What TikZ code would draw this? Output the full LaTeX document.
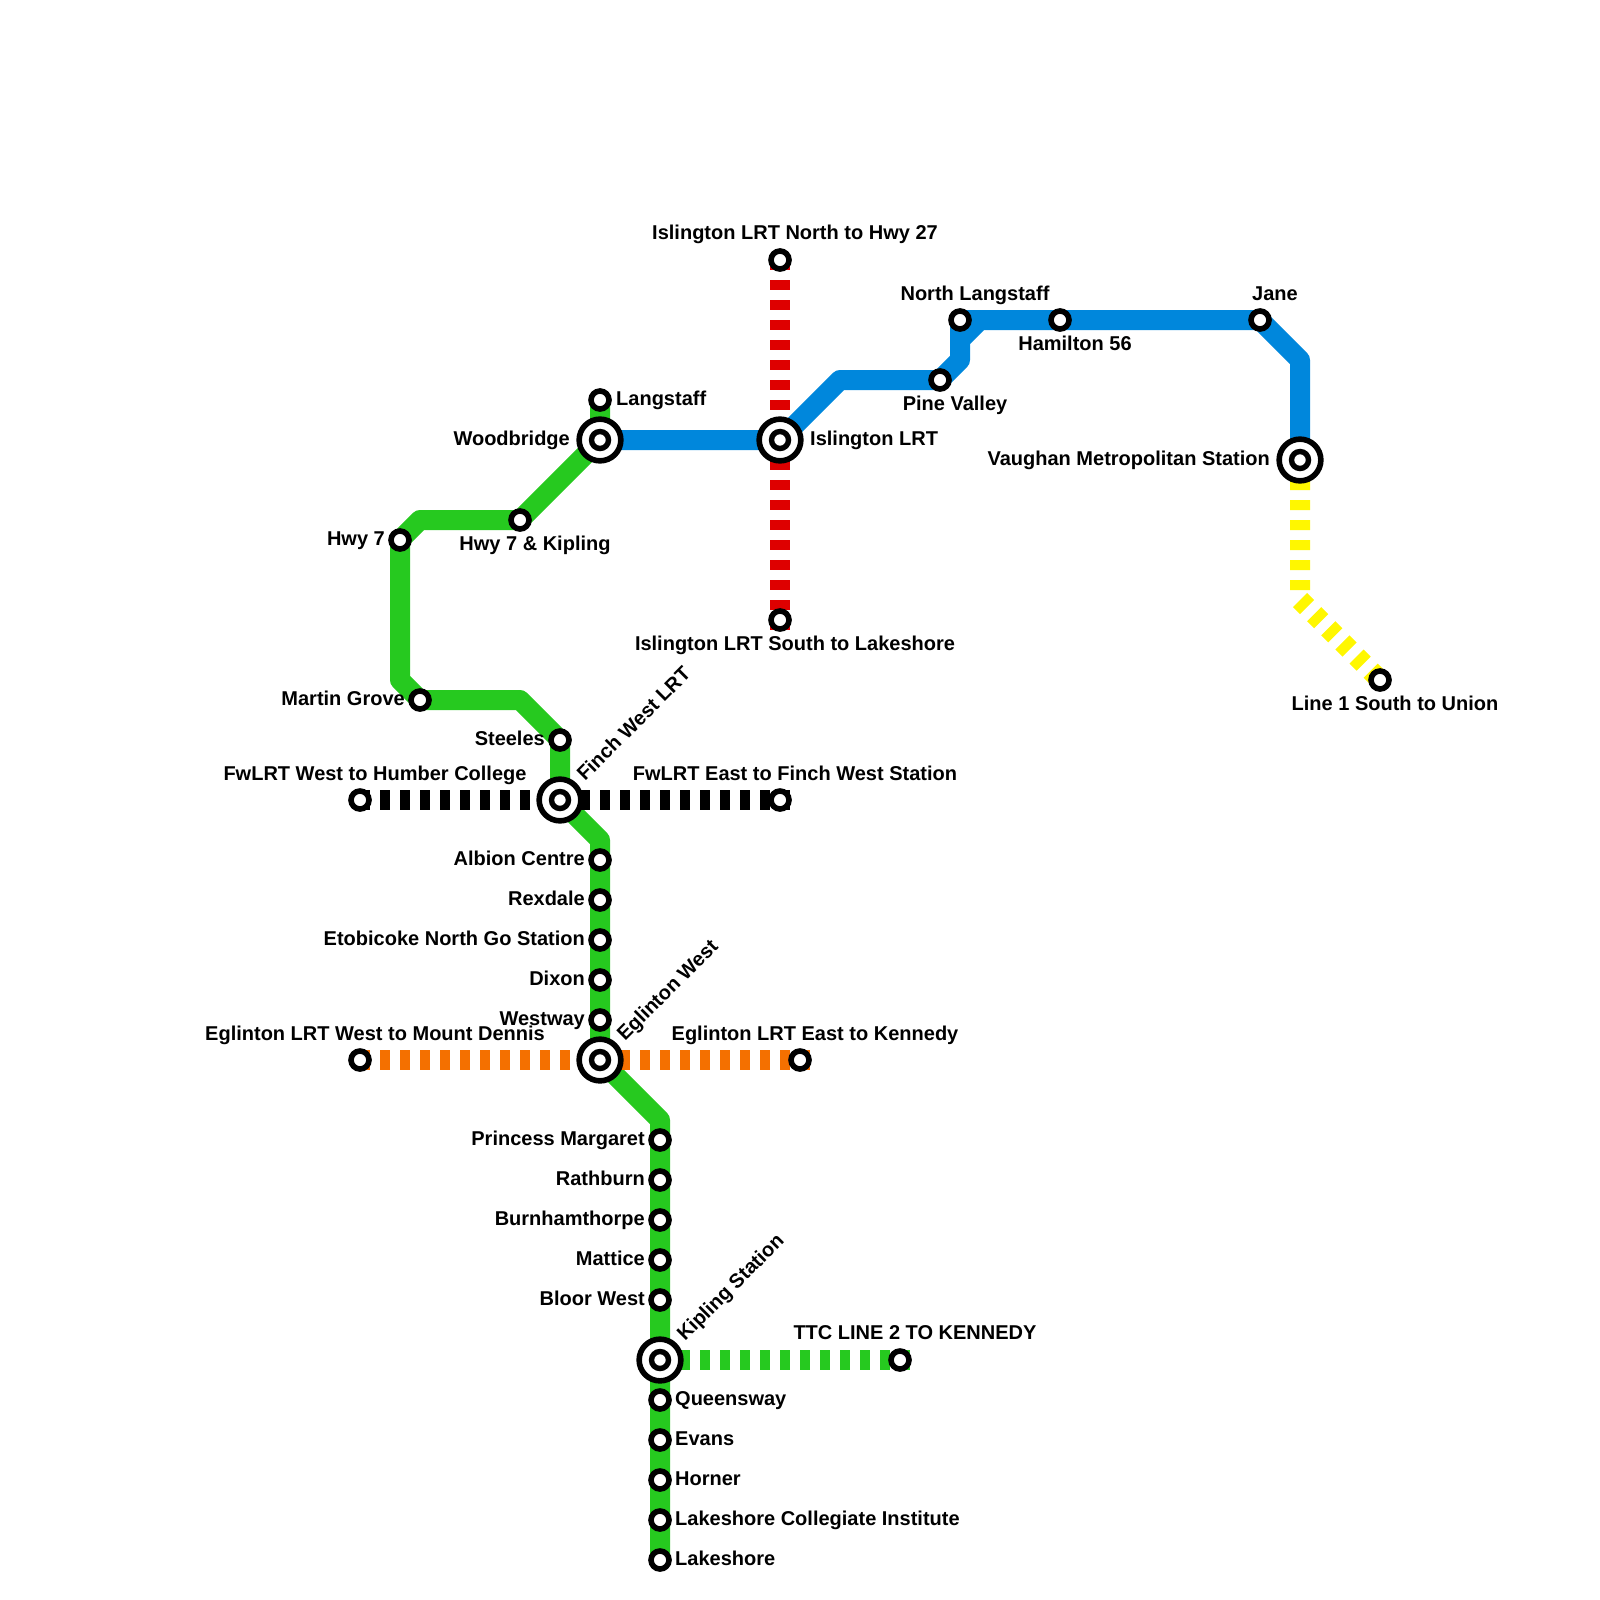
\documentclass[tikz,border=0pt]{standalone}
\usepackage{fontspec}
\setmainfont{Liberation Sans}
\usetikzlibrary{backgrounds}
\definecolor{lgreen}{HTML}{26C91F}
\definecolor{lblue}{HTML}{0087DC}
\definecolor{lred}{HTML}{DE0000}
\definecolor{lorange}{HTML}{F47000}
\definecolor{lyellow}{HTML}{FFF700}
\tikzset{
  stn/.style={circle,draw=black,fill=white,line width=5.6pt,minimum size=18pt,inner sep=0pt,outer sep=0pt},
  xbig/.style={circle,draw=black,fill=white,line width=5.6pt,minimum size=41.7pt,inner sep=0pt,outer sep=0pt},
  xsmall/.style={circle,draw=black,fill=white,line width=5.4pt,minimum size=17pt,inner sep=0pt,outer sep=0pt},
  solidline/.style={line width=20pt,line join=round,line cap=butt},
  dashline/.style={line width=20pt,line join=miter,line cap=butt,dash pattern=on 10pt off 10pt},
  lbl/.style={font=\fontsize{20}{22}\selectfont\bfseries,inner sep=0pt,text=black},
  lr/.style={lbl,anchor=base east},
  ll/.style={lbl,anchor=base west},
  lc/.style={lbl,anchor=base},
  ld/.style={lbl,anchor=base west,rotate=45},
}
\newcommand{\stnat}[2]{\node[stn] (#1) at (#2) {};}
\begin{document}
\begin{tikzpicture}[x=1pt,y=-1pt]
\useasboundingbox (0,0) rectangle (1600,1600);
% interchanges
\foreach \n/\p in {woodbridge/{600,440},islington/{780,440},vaughan/{1300,460},finch/{560,800},eglinton/{600,1060},kipling/{660,1360}}{
  \node[xbig] (\n O) at (\p) {};
  \node[xsmall] (\n) at (\p) {};
}
% stations
\stnat{langstaff}{600,400}
\stnat{hwysk}{520,520}
\stnat{hwys}{400,540}
\stnat{martin}{420,700}
\stnat{steeles}{560,740}
\stnat{albion}{600,860}
\stnat{rexdale}{600,900}
\stnat{etobicoke}{600,940}
\stnat{dixon}{600,980}
\stnat{westway}{600,1020}
\stnat{princess}{660,1140}
\stnat{rathburn}{660,1180}
\stnat{burnham}{660,1220}
\stnat{mattice}{660,1260}
\stnat{bloor}{660,1300}
\stnat{queensway}{660,1400}
\stnat{evans}{660,1440}
\stnat{horner}{660,1480}
\stnat{collegiate}{660,1520}
\stnat{lakeshore}{660,1560}
\stnat{fwwest}{360,800}
\stnat{fweast}{780,800}
\stnat{egwest}{360,1060}
\stnat{egeast}{800,1060}
\stnat{ttc}{900,1360}
\stnat{isnorth}{780,260}
\stnat{issouth}{780,620}
\stnat{pine}{940,380}
\stnat{northl}{960,320}
\stnat{hamilton}{1060,320}
\stnat{jane}{1260,320}
\stnat{union}{1380,680}
% bends and free ends
\coordinate (g1) at (420,520);
\coordinate (g2) at (400,680);
\coordinate (g3) at (520,700);
\coordinate (g5) at (600,840);
\coordinate (g6) at (660,1120);
\coordinate (b1) at (840,380);
\coordinate (b2) at (960,360);
\coordinate (b3) at (960,340);
\coordinate (b4) at (980,320);
\coordinate (b5) at (1300,360);
\coordinate (y1) at (1300,600);
\coordinate (e1) at (790,800);
\coordinate (e2) at (810,1060);
\coordinate (e3) at (910,1360);
\coordinate (e4) at (780,630);
\begin{scope}[on background layer]
\draw[solidline,lgreen] (langstaff.center) -- (woodbridge.center) -- (hwysk.center) -- (g1) -- (hwys.center) -- (g2) -- (martin.center) -- (g3) -- (steeles.center) -- (finch.center) -- (g5) -- (eglinton.center) -- (g6) -- (lakeshore.center);
\draw[solidline,lblue] (woodbridge.center) -- (islington.center) -- (b1) -- (pine.center) -- (b2) -- (b3) -- (b4) -- (jane.center) -- (b5) -- (vaughan.center);
\draw[solidline,lblue] (b3) -- (northl.center) -- (b4);
\draw[dashline,black] (fwwest.center) -- (e1);
\draw[dashline,lorange] (egwest.center) -- (e2);
\draw[dashline,lgreen] (kipling.center) -- (e3);
\draw[dashline,lred] (isnorth.center) -- (e4);
\draw[dashline,lyellow] (vaughan.center) -- (y1) -- (union.center);
\end{scope}
% labels
\node[ll] (t1) at (616,405) {Langstaff};
\node[lr] (t2) at (570,445) {Woodbridge};
\node[lc] (t3) at (535,550) {Hwy 7 \& Kipling};
\node[lr] (t4) at (385,545) {Hwy 7};
\node[lr] (t5) at (405,705) {Martin Grove};
\node[lr] (t6) at (545,745) {Steeles};
\node[lr] (t7) at (585,865) {Albion Centre};
\node[lr] (t8) at (585,905) {Rexdale};
\node[lr] (t9) at (585,945) {Etobicoke North Go Station};
\node[lr] (t10) at (585,985) {Dixon};
\node[lr] (t11) at (585,1025) {Westway};
\node[lr] (t12) at (645,1145) {Princess Margaret};
\node[lr] (t13) at (645,1185) {Rathburn};
\node[lr] (t14) at (645,1225) {Burnhamthorpe};
\node[lr] (t15) at (645,1265) {Mattice};
\node[lr] (t16) at (645,1305) {Bloor West};
\node[ll] (t17) at (675,1405) {Queensway};
\node[ll] (t18) at (675,1445) {Evans};
\node[ll] (t19) at (675,1485) {Horner};
\node[ll] (t20) at (675,1525) {Lakeshore Collegiate Institute};
\node[ll] (t21) at (675,1565) {Lakeshore};
\node[lc] (t22) at (375,780) {FwLRT West to Humber College};
\node[lc] (t23) at (795,780) {FwLRT East to Finch West Station};
\node[lc] (t24) at (375,1040) {Eglinton LRT West to Mount Dennis};
\node[lc] (t25) at (815,1040) {Eglinton LRT East to Kennedy};
\node[lc] (t26) at (915,1339) {TTC LINE 2 TO KENNEDY};
\node[lc] (t27) at (795,239) {Islington LRT North to Hwy 27};
\node[lc] (t28) at (795,650) {Islington LRT South to Lakeshore};
\node[ll] (t29) at (810,445) {Islington LRT};
\node[lr] (t30) at (1270,465) {Vaughan Metropolitan Station};
\node[lc] (t31) at (975,300) {North Langstaff};
\node[lc] (t32) at (1075,350) {Hamilton 56};
\node[lc] (t33) at (955,410) {Pine Valley};
\node[lc] (t34) at (1275,300) {Jane};
\node[lc] (t35) at (1395,710) {Line 1 South to Union};
\node[ld] (t36) at (585,782) {Finch West LRT};
\node[ld] (t37) at (625,1042) {Eglinton West};
\node[ld] (t38) at (685,1342) {Kipling Station};
\end{tikzpicture}
\end{document}
